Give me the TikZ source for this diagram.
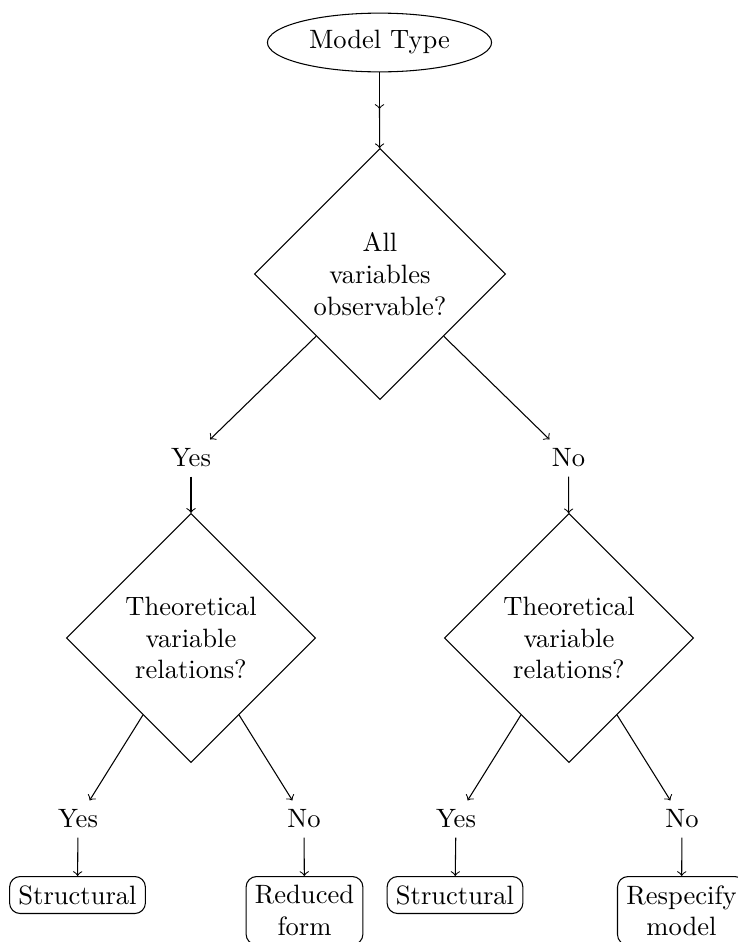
\documentclass[tikz,border=0pt]{standalone}
\usetikzlibrary{shapes.geometric}
\begin{document}
\begin{tikzpicture}[x=0.013245cm, y=-0.013245cm,
  startnode/.style={draw, ellipse},
  decision/.style={draw, diamond, aspect=1, align=center},
  answer/.style={},
  outcome/.style={draw, rounded corners, align=center, anchor=north},
  flow/.style={->}]
  \useasboundingbox (0,0) rectangle (738,942);

  % top of the tree
  \node[startnode] (mt) at (379.5,42.5) {Model Type};
  \coordinate (mid) at (379.5,109);
  \node[decision] (d1) at (380,274) {All\\variables\\observable?};

  % first answers
  \node[answer] (y1) at (191,458) {Yes};
  \node[answer] (n1) at (568.5,458) {No};

  % second-level decisions
  \node[decision] (d2l) at (191,638) {Theoretical\\variable\\relations?};
  \node[decision] (d2r) at (569,638) {Theoretical\\variable\\relations?};

  % second answers
  \node[answer] (y2) at (78,819) {Yes};
  \node[answer] (n2) at (304,819) {No};
  \node[answer] (y3) at (456,819) {Yes};
  \node[answer] (n3) at (682,819) {No};

  % outcomes
  \node[outcome] (o1) at (77.5,876) {Structural};
  \node[outcome] (o2) at (304.5,876) {Reduced\\form};
  \node[outcome] (o3) at (455,876) {Structural};
  \node[outcome] (o4) at (681.5,876) {Respecify\\model};

  % connectors
  \draw[flow] (mt) -- (mid);
  \draw[flow] (mid) -- (d1);
  \draw[flow] (d1) -- (y1);
  \draw[flow] (d1) -- (n1);
  \draw[flow] (y1) -- (d2l);
  \draw[flow] (n1) -- (d2r);
  \draw[flow] (d2l) -- (y2);
  \draw[flow] (d2l) -- (n2);
  \draw[flow] (d2r) -- (y3);
  \draw[flow] (d2r) -- (n3);
  \draw[flow] (y2) -- (o1);
  \draw[flow] (n2) -- (o2);
  \draw[flow] (y3) -- (o3);
  \draw[flow] (n3) -- (o4);
\end{tikzpicture}
\end{document}
